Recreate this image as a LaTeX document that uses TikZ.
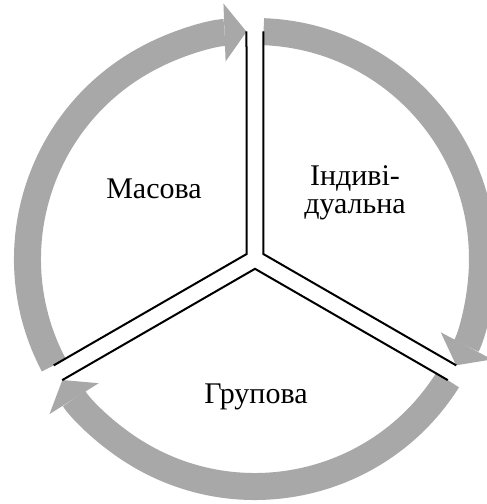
\documentclass[tikz,border=0pt]{standalone}
\usepackage{fontspec}
\setmainfont{Liberation Serif}
\usetikzlibrary{arrows.meta}
\definecolor{ringgray}{HTML}{A8A8A8}
\tikzset{
  ringarc/.style={draw=ringgray, line width=13.5pt,
                  -{Triangle[width=29pt, length=11pt, line width=0pt]}},
  divider/.style={draw, line width=1pt, line join=miter},
  sectorname/.style={font=\fontsize{15}{14}\selectfont, align=center,
                     anchor=base, inner sep=0pt},
}
\begin{document}
\begin{tikzpicture}[x=0.5pt, y=0.5pt]
    \clip (-255,-245) rectangle (232,259);
    % gray arrows round the circle
    \foreach \b in {150,30,270} {
      \draw[ringarc] (\b+57.86:227.5) arc[start angle=\b+57.86, end angle=\b-57.86, radius=227.5];
    }
    % double lines between the sectors
    \foreach \b in {150,30,270} {
      \draw[divider] ([shift={(\b-30:8.5)}]\b+60:227.5) -- (\b:9.8) -- ([shift={(\b+30:8.5)}]\b-60:227.5);
    }
    \node[sectorname] (masova) at (-101,60.5) {Масова};
    \node[sectorname] (indyv) at (100,46) {Індиві-\\дуальна};
    \node[sectorname] (grupova) at (1,-144) {Групова};
  \end{tikzpicture}
\end{document}
